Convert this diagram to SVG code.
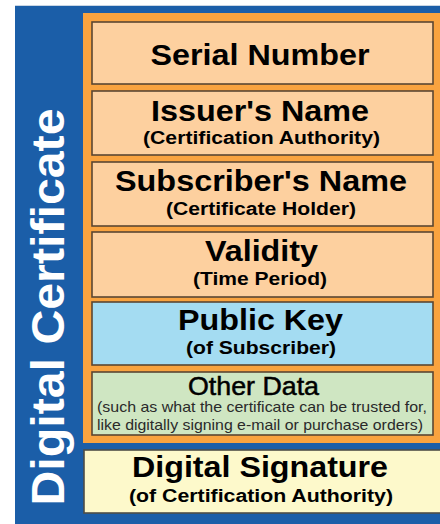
<svg xmlns="http://www.w3.org/2000/svg" width="440" height="524" viewBox="0 0 440 524">
  <style>
    .box { stroke: #5b4632; stroke-width: 1.6; }
    .peach { fill: #fdd09f; }
    .sky { fill: #a4dcf2; }
    .mint { fill: #cfe6c2; }
    .cream { fill: #fdf9cb; }
    text { font-family: "Liberation Sans", Arial, sans-serif; fill: #000; text-anchor: middle; }
    .head { font-size: 30px; font-weight: bold; }
    .sub { font-size: 18px; font-weight: bold; }
    .mid { font-size: 25px; stroke: #000; stroke-width: 0.5px; }
    .note { font-size: 14.5px; fill: #2a2a2a; }
    .side { font-size: 46px; font-weight: bold; fill: #ffffff; }
  </style>

  <!-- outer certificate frame -->
  <g id="certificate">
    <rect x="15" y="5" width="425" height="519" fill="#1b5ea8"/>
    <line x1="15" y1="5.5" x2="440" y2="5.5" stroke="#c9d6e4" stroke-width="1"/>
    <text class="side" transform="translate(64 307) rotate(-90)" textLength="397" lengthAdjust="spacingAndGlyphs">Digital Certificate</text>
  </g>

  <!-- signed content area -->
  <g id="content">
    <rect x="83" y="13" width="357" height="430" fill="#f9a33f"/>
  </g>

  <g id="serial-number">
    <rect class="box peach" x="92" y="22" width="341" height="62"/>
    <text class="head" x="260" y="65" textLength="219" lengthAdjust="spacingAndGlyphs">Serial Number</text>
  </g>

  <g id="issuer-name">
    <rect class="box peach" x="92" y="91" width="341" height="64"/>
    <text class="head" x="260" y="121" textLength="218" lengthAdjust="spacingAndGlyphs">Issuer's Name</text>
    <text class="sub" x="261.5" y="144" textLength="237" lengthAdjust="spacingAndGlyphs">(Certification Authority)</text>
  </g>

  <g id="subscriber-name">
    <rect class="box peach" x="92" y="162" width="341" height="64"/>
    <text class="head" x="261" y="191" textLength="292" lengthAdjust="spacingAndGlyphs">Subscriber's Name</text>
    <text class="sub" x="261" y="215" textLength="190" lengthAdjust="spacingAndGlyphs">(Certificate Holder)</text>
  </g>

  <g id="validity">
    <rect class="box peach" x="92" y="232" width="341" height="65"/>
    <text class="head" x="261.5" y="261" textLength="113" lengthAdjust="spacingAndGlyphs">Validity</text>
    <text class="sub" x="260" y="285" textLength="134" lengthAdjust="spacingAndGlyphs">(Time Period)</text>
  </g>

  <g id="public-key">
    <rect class="box sky" x="92" y="302" width="341" height="63"/>
    <text class="head" x="260.5" y="330" textLength="165" lengthAdjust="spacingAndGlyphs">Public Key</text>
    <text class="sub" x="261" y="354" textLength="150" lengthAdjust="spacingAndGlyphs">(of Subscriber)</text>
  </g>

  <g id="other-data">
    <rect class="box mint" x="92" y="372" width="341" height="63"/>
    <text class="mid" x="253.5" y="395" textLength="131" lengthAdjust="spacingAndGlyphs">Other Data</text>
    <text class="note" x="262" y="412" textLength="330" lengthAdjust="spacingAndGlyphs">(such as what the certificate can be trusted for,</text>
    <text class="note" x="260" y="430" textLength="326" lengthAdjust="spacingAndGlyphs">like digitally signing e-mail or purchase orders)</text>
  </g>

  <g id="digital-signature">
    <rect class="cream" x="84" y="450" width="360" height="63" stroke="#4e4e46" stroke-width="1.6"/>
    <text class="head" x="260" y="477" textLength="256" lengthAdjust="spacingAndGlyphs">Digital Signature</text>
    <text class="sub" x="261" y="502" textLength="264" lengthAdjust="spacingAndGlyphs">(of Certification Authority)</text>
  </g>

  <!-- stacked fields: no connectors -->
  <g id="connectors"/>
</svg>
